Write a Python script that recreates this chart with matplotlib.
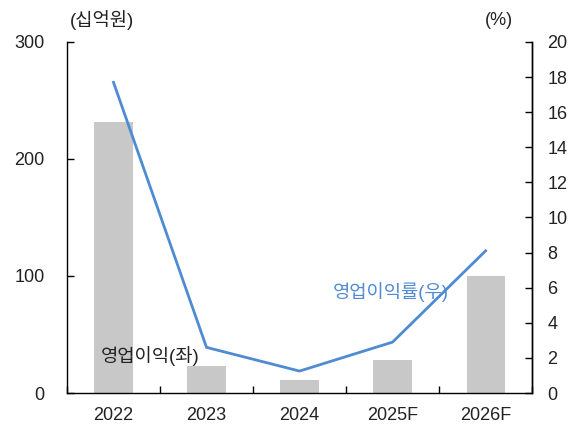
import numpy as np
import matplotlib
matplotlib.use("Agg")
import matplotlib.pyplot as plt

plt.rcParams['font.family'] = ['Liberation Sans', 'Noto Sans CJK KR', 'DejaVu Sans']

years = ['2022', '2023', '2024', '2025F', '2026F']
op_profit = [232, 23, 11, 28, 100]        # 십억원
op_margin = [17.7, 2.6, 1.25, 2.9, 8.1]   # %

bar_color = '#c8c8c8'
line_color = '#4f8bd2'
text_color = '#222222'

fig = plt.figure(figsize=(5.74, 4.24), dpi=100)
ax = fig.add_axes([0.1167, 0.0731, 0.8103, 0.8279])
ax2 = ax.twinx()

x = np.arange(len(years))
ax.bar(x, op_profit, width=0.41, color=bar_color, zorder=1)
ax2.plot(x, op_margin, color=line_color, lw=2, zorder=3)

ax.set_xlim(-0.5, len(years) - 0.5)
ax.set_ylim(0, 300)
ax.set_yticks([0, 100, 200, 300])
ax2.set_ylim(0, 20)
ax2.set_yticks(range(0, 21, 2))

ax.set_xticks(x)
ax.set_xticklabels(years)
ax.set_xticks(np.arange(-0.5, len(years), 1), minor=True)
ax.tick_params(axis='x', which='major', length=0, pad=10, labelsize=13, labelcolor=text_color)
ax.tick_params(axis='x', which='minor', direction='in', length=5, width=1)
ax.tick_params(axis='y', direction='in', length=5, width=1, labelsize=13, pad=16, labelcolor=text_color)
ax2.tick_params(axis='y', direction='in', length=5, width=1, labelsize=13, pad=11, labelcolor=text_color)

for a in (ax, ax2):
    a.spines['top'].set_visible(False)
    for s in ('left', 'right', 'bottom'):
        a.spines[s].set_linewidth(1)
ax2.spines['left'].set_visible(False)
ax2.spines['bottom'].set_visible(False)

ax.set_zorder(ax2.get_zorder() - 1)
ax2.patch.set_visible(False)

ax.text(0.39, 32, '영업이익(좌)', ha='center', va='center', fontsize=13.5,
        fontweight='light', color=text_color)
ax.text(2.98, 86, '영업이익률(우)', ha='center', va='center', fontsize=13.5,
        fontweight='light', color=line_color)

fig.text(0.178, 0.952, '(십억원)', ha='center', va='center', fontsize=13.5,
         fontweight='light', color=text_color)
fig.text(0.87, 0.952, '(%)', ha='center', va='center', fontsize=13, color=text_color)

fig.savefig('out.png', dpi=100)
